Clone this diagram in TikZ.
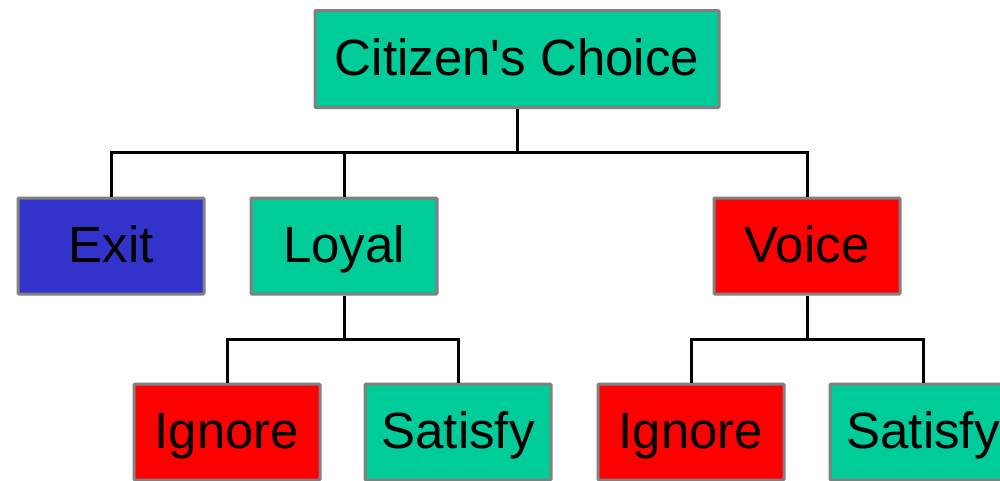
\documentclass[tikz,border=0pt]{standalone}
\usepackage{fontspec}
\setmainfont{Liberation Sans}
\definecolor{teal}{RGB}{0,204,153}
\definecolor{exitblue}{RGB}{51,51,204}
\definecolor{boxred}{RGB}{255,0,0}
\definecolor{boxgray}{RGB}{128,128,128}
\begin{document}
\begin{tikzpicture}[x=1pt,y=1pt,
  box/.style={draw=boxgray, line width=3pt, rounded corners=1pt, minimum width=186pt, minimum height=96pt,
    inner sep=0pt, text height=36pt, text depth=4pt, font=\fontsize{51}{60}\selectfont, text=black},
  link/.style={draw=black, line width=3pt, line join=miter}]
\useasboundingbox (0,0) rectangle (1000,-480);
\node[box, fill=teal, minimum width=404pt, minimum height=97pt] (root) at (517,-59) {Citizen\textquotesingle s Choice};
\node[box, fill=exitblue] (exit) at (111,-246) {Exit};
\node[box, fill=teal] (loyal) at (344,-246) {Loyal};
\node[box, fill=boxred] (voice) at (807,-246) {Voice};
\node[box, fill=boxred] (ign1) at (227,-432) {Ignore};
\node[box, fill=teal] (sat1) at (458,-432) {Satisfy};
\node[box, fill=boxred] (ign2) at (691,-432) {Ignore};
\node[box, fill=teal] (sat2) at (923,-432) {Satisfy};
\coordinate (bus1) at (517,-152);
\coordinate (bus2) at (344,-339);
\coordinate (bus3) at (807,-339);
\draw[link] (root.south) -- (bus1);
\draw[link] (exit.north) |- (bus1);
\draw[link] (voice.north) |- (bus1);
\draw[link] (loyal.north) -- (loyal.north |- bus1);
\draw[link] (loyal.south) -- (bus2);
\draw[link] (ign1.north) |- (bus2);
\draw[link] (sat1.north) |- (bus2);
\draw[link] (voice.south) -- (bus3);
\draw[link] (ign2.north) |- (bus3);
\draw[link] (sat2.north) |- (bus3);
\end{tikzpicture}
\end{document}
